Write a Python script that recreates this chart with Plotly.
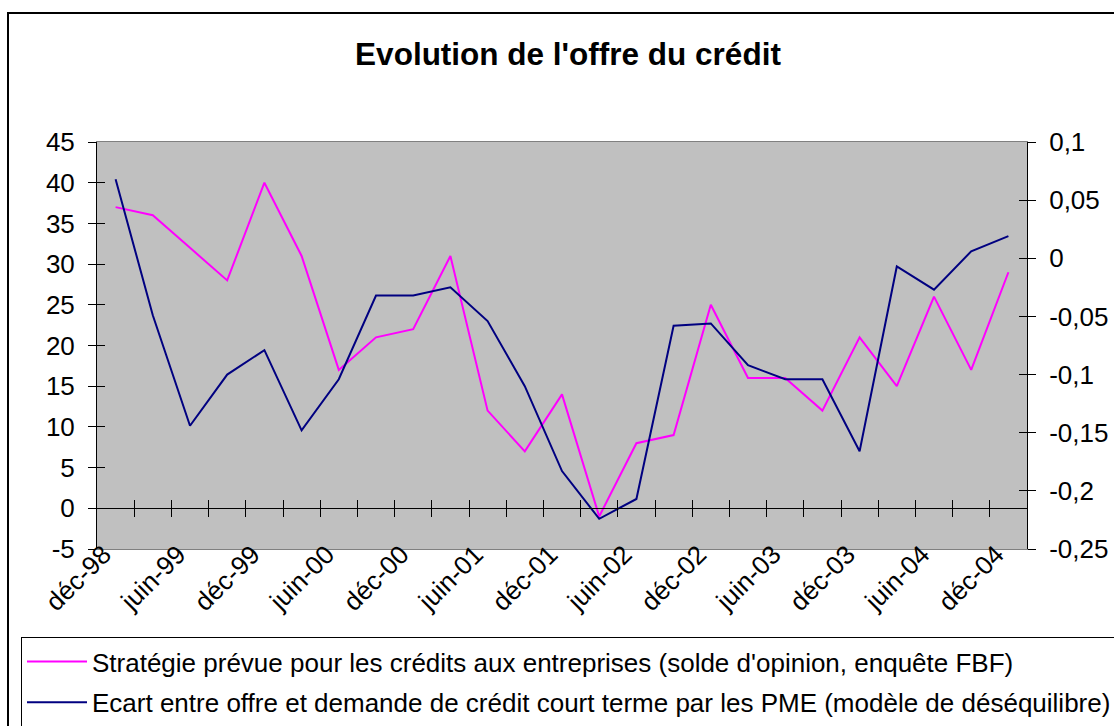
import plotly.graph_objects as go

categories = ["déc-98", "mars-99", "juin-99", "sept-99", "déc-99", "mars-00", "juin-00",
              "sept-00", "déc-00", "mars-01", "juin-01", "sept-01", "déc-01", "mars-02",
              "juin-02", "sept-02", "déc-02", "mars-03", "juin-03", "sept-03", "déc-03",
              "mars-04", "juin-04", "sept-04", "déc-04"]
strategie = [37, 36, 32, 28, 40, 31, 17, 21, 22, 31, 12, 7, 14, -1, 8, 9, 25, 16, 16, 12,
             21, 15, 26, 17, 29]
ecart = [0.068, -0.049, -0.144, -0.100, -0.079, -0.148, -0.104, -0.032, -0.032, -0.025,
         -0.054, -0.110, -0.183, -0.224, -0.207, -0.058, -0.056, -0.092, -0.104, -0.104,
         -0.166, -0.007, -0.027, 0.006, 0.019]
left_ticks = [-5, 0, 5, 10, 15, 20, 25, 30, 35, 40, 45]
left_text = ["-5", "0", "5", "10", "15", "20", "25", "30", "35", "40", "45"]
right_ticks = [-0.25, -0.2, -0.15, -0.1, -0.05, 0, 0.05, 0.1]
right_text = ["-0,25", "-0,2", "-0,15", "-0,1", "-0,05", "0", "0,05", "0,1"]
name_s = "Stratégie prévue pour les crédits aux entreprises (solde d'opinion, enquête FBF)"
name_e = "Ecart entre offre et demande de crédit court terme par les PME (modèle de déséquilibre)"
title = "Evolution de l'offre du crédit"

W, H = 1114, 726
L, R, T, B = 97, 1027, 142, 549


def px(x):
    return (x - L) / (R - L)


def py(y):
    return (B - y) / (B - T)


n = len(categories)
xr = [-0.5, n - 0.5]
yr = [-5, 45]
boundaries = [i + 0.5 for i in range(n - 1)]
zero_pos = (0 - yr[0]) / (yr[1] - yr[0])
FONT = "Arial, Liberation Sans, sans-serif"

fig = go.Figure()
fig.add_trace(go.Scatter(x=categories, y=strategie, name=name_s, mode="lines",
                         line=dict(color="#FF00FF", width=2), legendgroup="a",
                         xaxis="x", yaxis="y"))
fig.add_trace(go.Scatter(x=categories, y=ecart, name=name_e, mode="lines",
                         line=dict(color="#000080", width=2), legendgroup="b",
                         xaxis="x", yaxis="y2"))
# helper (empty) traces so that tick-only overlay axes are drawn
for xa, ya in [("x2", "y"), ("x3", "y"), ("x", "y3"), ("x", "y4")]:
    fig.add_trace(go.Scatter(x=[None], y=[None], xaxis=xa, yaxis=ya, showlegend=False,
                             hoverinfo="skip", mode="lines"))

tickfont = dict(family=FONT, size=26, color="black")
common_tick = dict(ticklen=8, tickcolor="black", tickwidth=1, showgrid=False,
                   zeroline=False, automargin=False)
fig.update_layout(
    width=W, height=H,
    margin=dict(l=L, r=W - R, t=T, b=H - B, pad=0, autoexpand=False),
    paper_bgcolor="white", plot_bgcolor="#C0C0C0",
    font=dict(family=FONT, color="black"),
    title=dict(text="<b>" + title + "</b>", x=px(568), xref="paper", xanchor="center",
               y=1 - 54 / H, yref="container", yanchor="middle",
               font=dict(family=FONT, size=31.5, color="black")),
    showlegend=True,
    legend=dict(x=px(21), y=py(637), xanchor="left", yanchor="top",
                bgcolor="white", bordercolor="black", borderwidth=1,
                font=dict(family=FONT, size=26, color="black"),
                tracegroupgap=4, itemwidth=60),
    xaxis=dict(type="category", categoryorder="array", categoryarray=categories,
               range=xr, tickmode="linear", tick0=0, dtick=2, ticks="",
               tickangle=-45, tickfont=tickfont, showgrid=False, zeroline=False,
               showline=True, linecolor="#808080", linewidth=1, mirror=True,
               ticklabelstandoff=-21, ticklabelshift=-12, automargin=False),
    xaxis2=dict(overlaying="x", anchor="free", position=zero_pos,
                range=xr, tickmode="array", tickvals=boundaries, ticks="outside",
                showticklabels=False, showline=True, linecolor="black", linewidth=1,
                side="bottom", **common_tick),
    xaxis3=dict(overlaying="x", anchor="free", position=zero_pos,
                range=xr, tickmode="array", tickvals=boundaries, ticks="inside",
                showticklabels=False, showline=False, side="bottom", **common_tick),
    yaxis=dict(range=yr, tickmode="array", tickvals=left_ticks, ticktext=left_text,
               ticks="outside", tickfont=tickfont, showline=True,
               linecolor="black", linewidth=1, ticklabelstandoff=8, **common_tick),
    yaxis3=dict(overlaying="y", anchor="x", side="left", range=yr,
                tickmode="array", tickvals=left_ticks, ticks="inside",
                showticklabels=False, showline=False, **common_tick),
    yaxis2=dict(overlaying="y", anchor="x", side="right", range=[-0.25, 0.1],
                tickmode="array", tickvals=right_ticks, ticktext=right_text,
                ticks="outside", tickfont=tickfont, showline=True,
                linecolor="black", linewidth=1, ticklabelstandoff=8, **common_tick),
    yaxis4=dict(overlaying="y", anchor="x", side="right", range=[-0.25, 0.1],
                tickmode="array", tickvals=right_ticks, ticks="inside",
                showticklabels=False, showline=False, **common_tick),
    shapes=[dict(type="rect", xref="paper", yref="paper", x0=px(8), x1=px(1125),
                 y0=py(740), y1=py(13), line=dict(color="black", width=2),
                 fillcolor="rgba(0,0,0,0)", layer="above")],
)

fig.write_html("out.html", config={"displayModeBar": False},
               post_script="document.body.style.margin='0';")
